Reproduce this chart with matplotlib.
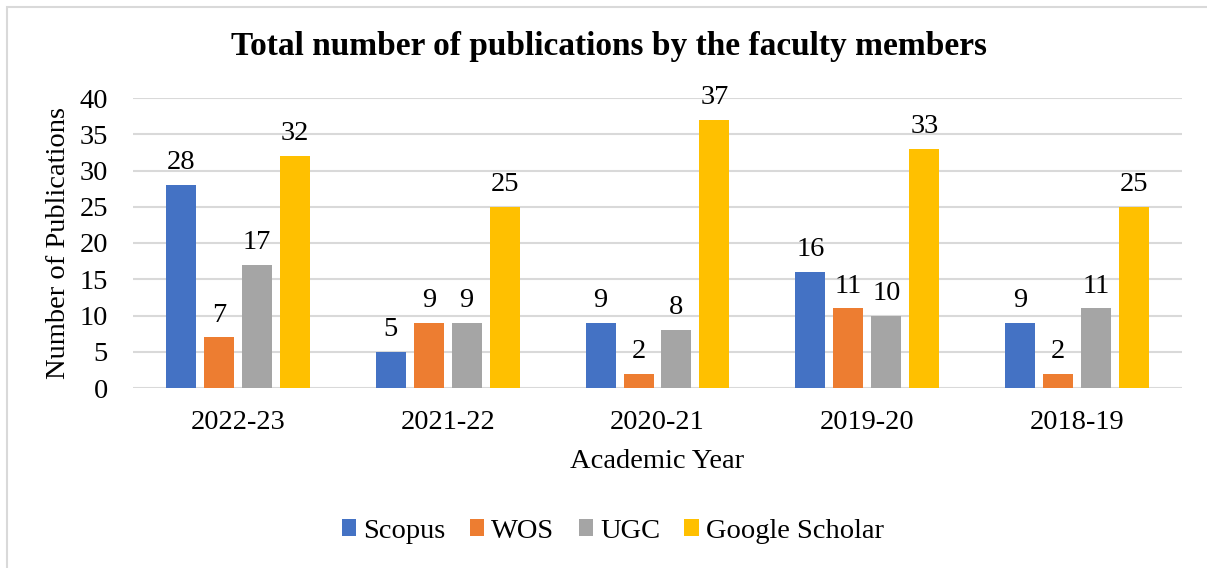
import matplotlib
matplotlib.use("Agg")
import matplotlib.pyplot as plt
import numpy as np
from matplotlib.patches import Rectangle

years = ["2022-23", "2021-22", "2020-21", "2019-20", "2018-19"]
scopus = [28, 5, 9, 16, 9]
wos = [7, 9, 2, 11, 2]
ugc = [17, 9, 8, 10, 11]
google_scholar = [32, 25, 37, 33, 25]

series = [("Scopus", scopus, "#4472C4"),
          ("WOS", wos, "#ED7D31"),
          ("UGC", ugc, "#A5A5A5"),
          ("Google Scholar", google_scholar, "#FFC000")]

plt.rcParams['font.family'] = ['Liberation Serif', 'DejaVu Serif']
FS = 20.5

fig = plt.figure(figsize=(12.07, 5.68), dpi=100)
fig.patches.append(Rectangle((7/1207, -0.1), 1.2, (568-7)/568 + 0.1, transform=fig.transFigure,
                             fill=False, edgecolor="#D9D9D9", linewidth=1.5, zorder=0))
ax = fig.add_axes([133/1207, 1 - 388/568, (1182-133)/1207, (388-98)/568])

x = np.arange(len(years))
width = 0.143
pitch = 0.181
for i, (name, vals, col) in enumerate(series):
    offs = (i - 1.5) * pitch
    bars = ax.bar(x + offs, vals, width, color=col, label=name, zorder=3)
    for xi, v in zip(x + offs, vals):
        ax.annotate(str(v), (xi, v), xytext=(0, 7), textcoords="offset points",
                    ha="center", va="bottom", fontsize=FS)

ax.set_xlim(-0.5, len(years) - 0.5)
ax.set_ylim(0, 40)
ax.set_yticks(range(0, 41, 5))
ax.yaxis.grid(True, color="#D9D9D9", linewidth=1.5, zorder=0)
ax.set_axisbelow(True)
for s in ax.spines.values():
    s.set_visible(False)
ax.tick_params(axis='both', length=0, labelsize=FS)
ax.tick_params(axis='x', pad=16)
ax.tick_params(axis='y', pad=18)
ax.set_xticks(x)
ax.set_xticklabels(years)
ax.set_xlabel("Academic Year", fontsize=FS, labelpad=10)
ax.set_ylabel("Number of Publications", fontsize=FS, labelpad=6)

fig.text(609/1207, 1 - 47/568, "Total number of publications by the faculty members",
         ha="center", va="center", fontsize=24, fontweight="bold")

handles, labels = ax.get_legend_handles_labels()
fig.legend(handles, labels, loc="center", bbox_to_anchor=(613/1207, 1 - 531/568),
           ncol=4, frameon=False, fontsize=FS, handlelength=0.5, handleheight=0.5,
           handletextpad=0.25, columnspacing=0.85)

fig.savefig("out.png", dpi=100)
